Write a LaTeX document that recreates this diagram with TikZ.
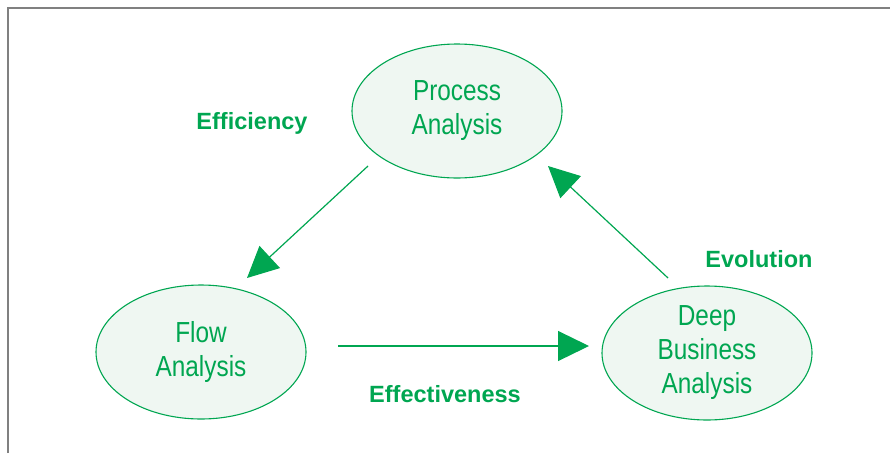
\documentclass[tikz,border=0pt]{standalone}
\usepackage{fontspec}
\setmainfont{Liberation Sans}
\newfontfamily\narrowsf{Liberation Sans}[FakeStretch=0.84]
\usetikzlibrary{shapes.geometric,arrows.meta}
\definecolor{leaf}{HTML}{00A651}
\definecolor{mist}{HTML}{EFF7F2}
\begin{document}
\begin{tikzpicture}[x=1pt,y=-1pt,
  blob/.style={ellipse,draw=leaf,fill=mist,line width=1.1pt,minimum width=210pt,minimum height=134pt,inner sep=0pt,align=center,text=leaf,font=\narrowsf\fontsize{29}{34}\selectfont},
  tag/.style={text=leaf,font=\bfseries\fontsize{23.5}{28}\selectfont},
  arr/.style={draw=leaf,line width=1.2pt,-{Triangle[length=31pt,width=30pt]}}]
\useasboundingbox (0,0) rectangle (890,453);
\draw[gray,line width=1.4pt] (8,453)--(8,8)--(890,8);
\node[blob] (proc) at (457,111) {Process\\Analysis};
\node[blob] (flow) at (201,352) {Flow\\Analysis};
\node[blob] (deep) at (707,353) {Deep\\Business\\Analysis};
\draw[arr] ([shift={(-89,55)}]proc.center)--([shift={(46,-74)}]flow.center);
\draw[arr] ([shift={(137,-6)}]flow.center)--([shift={(-118,-7)}]deep.center);
\draw[arr] ([shift={(-39,-75)}]deep.center)--([shift={(91,55)}]proc.center);
\node[tag] (eff) at (252,123) {Efficiency};
\node[tag] (evo) at (759,259) {Evolution};
\node[tag] (efv) at (445,394) {Effectiveness};
\end{tikzpicture}
\end{document}
